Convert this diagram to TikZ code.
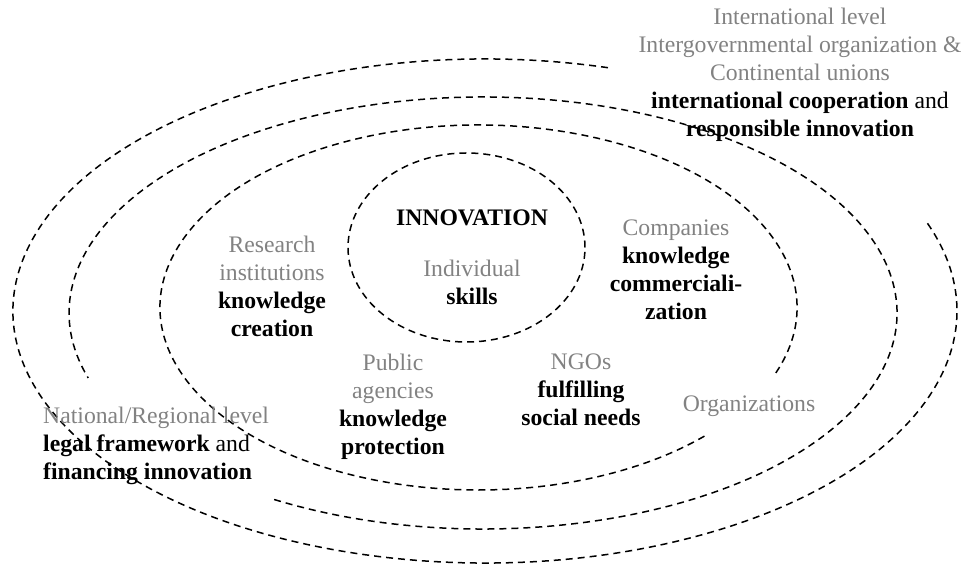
\documentclass[tikz,border=0pt]{standalone}
\usepackage{fontspec}
\setmainfont{Liberation Serif}
\definecolor{labelgray}{RGB}{130,130,130}
\begin{document}
\begin{tikzpicture}[x=1pt,y=1pt,
  ring/.style={draw=black,line width=1.5pt,dash pattern=on 7pt off 5pt},
  lbl/.style={inner sep=0pt,align=center,font=\fontsize{23.7}{28}\selectfont},
  lvl/.style={lbl,text=labelgray},
]
\useasboundingbox (0,0) rectangle (965,567);

% concentric levels (open where the labels sit)
\draw[ring] (485,256) ++(74.9:472pt and 252pt)
  arc[start angle=74.9,end angle=380.7,x radius=472pt,y radius=252pt];
\draw[ring] (483,254) ++(239.7:414pt and 216pt)
  arc[start angle=239.7,end angle=557.5,x radius=414pt,y radius=216pt];
\draw[ring] (478.5,259.5) ++(-21:318.5pt and 182.5pt)
  arc[start angle=-21,end angle=315.9,x radius=318.5pt,y radius=182.5pt];
\draw[ring] (466.5,319.5) ellipse[x radius=118.5pt,y radius=94.5pt];

% individual level
\node[lbl,font=\fontsize{23.7}{28}\selectfont\bfseries] (innov) at (472,349) {INNOVATION};
\node[lbl] (indiv) at (472,285) {\textcolor{labelgray}{Individual}\\\textbf{skills}};

% organizations
\node[lbl] (research) at (272,280.5) {\textcolor{labelgray}{Research}\\\textcolor{labelgray}{institutions}\\\textbf{knowledge}\\\textbf{creation}};
\node[lbl] (companies) at (676,297) {\textcolor{labelgray}{Companies}\\\textbf{knowledge}\\\textbf{commerciali-}\\\textbf{zation}};
\node[lbl] (public) at (393,160) {\textcolor{labelgray}{Public}\\\textcolor{labelgray}{agencies}\\\textbf{knowledge}\\\textbf{protection}};
\node[lbl] (ngos) at (581,177) {\textcolor{labelgray}{NGOs}\\\textbf{fulfilling}\\\textbf{social needs}};
\node[lvl] (orgs) at (749,161) {Organizations};

% national / regional level
\node[lbl,align=left,anchor=west] (national) at (43,121)
  {\textcolor{labelgray}{National/Regional level}\\\textbf{legal framework} and\\\textbf{financing innovation}};

% international level
\node[lbl] (intl) at (800,492)
  {\textcolor{labelgray}{International level}\\\textcolor{labelgray}{Intergovernmental organization \&}\\\textcolor{labelgray}{Continental unions}\\\textbf{international cooperation} and\\\textbf{responsible innovation}};
\end{tikzpicture}
\end{document}
